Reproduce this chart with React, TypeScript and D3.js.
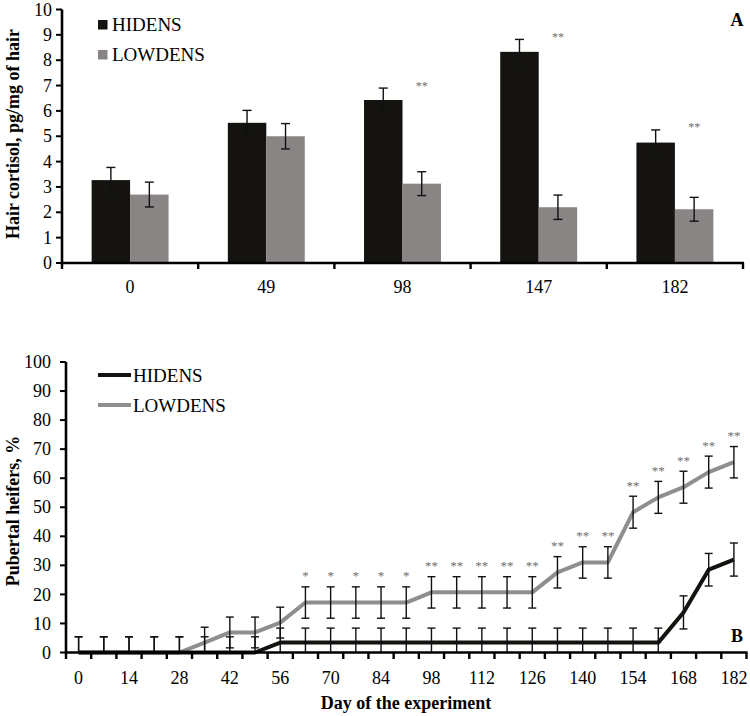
import * as d3 from 'd3'

const FONT = '"Liberation Serif", "Times New Roman", serif'
const DARK = '#15130f'
const GRAY_BAR = '#888584'
const GRAY_LINE = '#8e8e8e'
const STAR = '#6e6e6e'

// Panel A: hair cortisol by sampling day
const cortisolDays = ['0', '49', '98', '147', '182']
const cortisolSeries = ['HIDENS', 'LOWDENS']
const hidensCortisol = [3.27, 5.53, 6.43, 8.33, 4.75]
const hidensCortisolSE = [0.5, 0.49, 0.47, 0.49, 0.5]
const lowdensCortisol = [2.7, 5.0, 3.13, 2.2, 2.12]
const lowdensCortisolSE = [0.49, 0.5, 0.47, 0.48, 0.47]
const cortisolStars = ['', '', '**', '**', '**']
const cortisolTicks = [0, 1, 2, 3, 4, 5, 6, 7, 8, 9, 10]

// Panel B: cumulative pubertal heifers
const pubertyDays = [0, 7, 14, 21, 28, 35, 42, 49, 56, 63, 70, 77, 84, 91, 98, 105, 112, 119, 126, 133, 140, 147, 154, 161, 168, 175, 182]
const hidensPuberty = [0, 0, 0, 0, 0, 0, 0, 0, 3.4, 3.4, 3.4, 3.4, 3.4, 3.4, 3.4, 3.4, 3.4, 3.4, 3.4, 3.4, 3.4, 3.4, 3.4, 3.4, 13.8, 28.5, 32.0]
const hidensPubertySE = [5.4, 5.4, 5.4, 5.4, 5.4, 5.4, 5.4, 5.4, 5.0, 5.0, 5.0, 5.0, 5.0, 5.0, 5.0, 5.0, 5.0, 5.0, 5.0, 5.0, 5.0, 5.0, 5.0, 5.0, 5.7, 5.6, 5.7]
const lowdensPuberty = [0, 0, 0, 0, 0, 3.4, 6.9, 6.9, 10.3, 17.2, 17.2, 17.2, 17.2, 17.2, 20.7, 20.7, 20.7, 20.7, 20.7, 27.6, 31.0, 31.0, 48.3, 53.4, 56.9, 62.1, 65.5]
const lowdensPubertySE = [5.4, 5.4, 5.4, 5.4, 5.4, 5.3, 5.3, 5.3, 5.3, 5.4, 5.4, 5.4, 5.4, 5.4, 5.4, 5.4, 5.4, 5.4, 5.4, 5.4, 5.4, 5.4, 5.5, 5.5, 5.5, 5.5, 5.4]
const pubertyStars = ['', '', '', '', '', '', '', '', '', '*', '*', '*', '*', '*', '**', '**', '**', '**', '**', '**', '**', '**', '**', '**', '**', '**', '**']
const pubertyTicks = [0, 10, 20, 30, 40, 50, 60, 70, 80, 90, 100]

function ErrorBar({ x, y0, y1, cap, clipY }: { x: number; y0: number; y1: number; cap: number; clipY: number }) {
  // y0 is the upper end (smaller pixel), y1 the lower end; lower end stops at the axis
  const bottom = Math.min(y1, clipY)
  return (
    <g stroke="#111" strokeWidth={1.4}>
      <line x1={x} x2={x} y1={y0} y2={bottom} />
      <line x1={x - cap / 2} x2={x + cap / 2} y1={y0} y2={y0} />
      {y1 < clipY - 1 && <line x1={x - cap / 2} x2={x + cap / 2} y1={y1} y2={y1} />}
    </g>
  )
}

function CortisolPanel() {
  const x0 = d3.scaleBand<string>().domain(cortisolDays).range([62, 743]).padding(0)
  const x1 = d3.scaleBand<string>().domain(cortisolSeries).range([0, x0.bandwidth()]).paddingInner(0).paddingOuter(0.77)
  const y = d3.scaleLinear().domain([0, 10]).range([263, 9.5])
  const values = [hidensCortisol, lowdensCortisol]
  const errors = [hidensCortisolSE, lowdensCortisolSE]
  const fills = [DARK, GRAY_BAR]
  const edges = [...cortisolDays.map((d) => x0(d)!), x0.range()[1]]

  return (
    <g>
      {cortisolDays.map((day, i) =>
        cortisolSeries.map((s, k) => {
          const bx = x0(day)! + x1(s)!
          const v = values[k][i]
          const e = errors[k][i]
          return (
            <g key={day + s}>
              <rect x={bx} y={y(v)} width={x1.bandwidth()} height={y(0) - y(v)} fill={fills[k]} />
              <ErrorBar x={bx + x1.bandwidth() / 2} y0={y(v + e)} y1={y(v - e)} cap={9} clipY={y(0)} />
            </g>
          )
        })
      )}
      {cortisolDays.map((day, i) =>
        cortisolStars[i] ? (
          <text
            key={'s' + day}
            x={x0(day)! + x1('LOWDENS')! + x1.bandwidth() / 2}
            y={y(hidensCortisol[i] + hidensCortisolSE[i]) + 1.5}
            textAnchor="middle"
            fontSize={12}
            fill={STAR}
          >
            {cortisolStars[i]}
          </text>
        ) : null
      )}
      {/* axes */}
      <line x1={62} x2={62} y1={y(10)} y2={y(0) + 1.5} stroke="#000" strokeWidth={2.6} />
      <line x1={61} x2={744} y1={y(0)} y2={y(0)} stroke="#000" strokeWidth={2.6} />
      {cortisolTicks.map((t) => (
        <g key={t}>
          <line x1={56} x2={62} y1={y(t)} y2={y(t)} stroke="#000" strokeWidth={2} />
          <text x={52} y={y(t)} dy="0.34em" textAnchor="end" fontSize={18}>
            {t}
          </text>
        </g>
      ))}
      {edges.map((e, i) => (
        <line key={i} x1={e} x2={e} y1={y(0)} y2={y(0) + 6} stroke="#000" strokeWidth={2.4} />
      ))}
      {cortisolDays.map((d) => (
        <text key={d} x={x0(d)! + x0.bandwidth() / 2} y={293} textAnchor="middle" fontSize={18}>
          {d}
        </text>
      ))}
      <text transform="translate(19,134) rotate(-90)" textAnchor="middle" fontSize={18} fontWeight="bold">
        Hair cortisol, pg/mg of hair
      </text>
      {/* legend */}
      <rect x={98} y={20} width={9.5} height={9.5} fill={DARK} />
      <text x={112} y={31} fontSize={19}>HIDENS</text>
      <rect x={98} y={50} width={9.5} height={9.5} fill={GRAY_BAR} />
      <text x={112} y={61} fontSize={19}>LOWDENS</text>
      <text x={737} y={26} textAnchor="middle" fontSize={18} fontWeight="bold">A</text>
    </g>
  )
}

function PubertyPanel() {
  const cats = pubertyDays.map(String)
  const x = d3.scaleBand<string>().domain(cats).range([66, 746.5]).padding(0)
  const y = d3.scaleLinear().domain([0, 100]).range([652.5, 362])
  const cx = (i: number) => x(cats[i])! + x.bandwidth() / 2
  const line = d3
    .line<number>()
    .x((_, i) => cx(i))
    .y((v) => y(v))
  const edges = [...cats.map((c) => x(c)!), x.range()[1]]

  return (
    <g>
      <path d={line(lowdensPuberty)!} fill="none" stroke={GRAY_LINE} strokeWidth={4} strokeLinejoin="round" />
      <path d={line(hidensPuberty)!} fill="none" stroke={DARK} strokeWidth={4} strokeLinejoin="round" />
      {pubertyDays.map((d, i) => (
        <g key={'e' + d}>
          <ErrorBar x={cx(i)} y0={y(hidensPuberty[i] + hidensPubertySE[i])} y1={y(hidensPuberty[i] - hidensPubertySE[i])} cap={8} clipY={y(0)} />
          <ErrorBar x={cx(i)} y0={y(lowdensPuberty[i] + lowdensPubertySE[i])} y1={y(lowdensPuberty[i] - lowdensPubertySE[i])} cap={8} clipY={y(0)} />
        </g>
      ))}
      {pubertyDays.map((d, i) =>
        pubertyStars[i] ? (
          <text
            key={'s' + d}
            x={cx(i)}
            y={y(lowdensPuberty[i] + lowdensPubertySE[i]) - 6.5}
            textAnchor="middle"
            fontSize={13}
            fill={STAR}
          >
            {pubertyStars[i]}
          </text>
        ) : null
      )}
      {/* axes */}
      <line x1={66} x2={66} y1={y(100)} y2={y(0) + 1.5} stroke="#000" strokeWidth={2.6} />
      <line x1={65} x2={747.5} y1={y(0)} y2={y(0)} stroke="#000" strokeWidth={2.6} />
      {pubertyTicks.map((t) => (
        <g key={t}>
          <line x1={60} x2={66} y1={y(t)} y2={y(t)} stroke="#000" strokeWidth={2} />
          <text x={51} y={y(t)} dy="0.34em" textAnchor="end" fontSize={18}>
            {t}
          </text>
        </g>
      ))}
      {edges.map((e, i) => (
        <line key={i} x1={e} x2={e} y1={y(0)} y2={y(0) + 6.5} stroke="#000" strokeWidth={2.4} />
      ))}
      {pubertyDays.map((d, i) =>
        i % 2 === 0 ? (
          <text key={d} x={cx(i)} y={684} textAnchor="middle" fontSize={18}>
            {d}
          </text>
        ) : null
      )}
      <text x={406} y={709} textAnchor="middle" fontSize={18} fontWeight="bold">
        Day of the experiment
      </text>
      <text transform="translate(19,511) rotate(-90)" textAnchor="middle" fontSize={18} fontWeight="bold">
        Pubertal heifers, %
      </text>
      {/* legend */}
      <line x1={98} x2={131} y1={375} y2={375} stroke={DARK} strokeWidth={4} />
      <text x={133} y={382} fontSize={19}>HIDENS</text>
      <line x1={98} x2={131} y1={405} y2={405} stroke={GRAY_LINE} strokeWidth={4} />
      <text x={133} y={412} fontSize={19}>LOWDENS</text>
      <text x={737} y={642} textAnchor="middle" fontSize={18} fontWeight="bold">B</text>
    </g>
  )
}

export default function App() {
  return (
    <svg
      width={750}
      height={716}
      style={{ position: 'absolute', left: 0, top: 0, background: '#fff' }}
      fontFamily={FONT}
    >
      <rect width={750} height={716} fill="#fff" />
      <CortisolPanel />
      <PubertyPanel />
    </svg>
  )
}
